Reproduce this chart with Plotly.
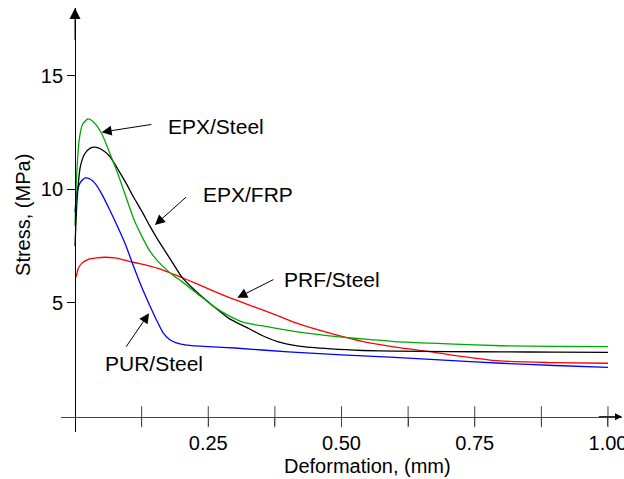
import plotly.graph_objects as go

# ---- data ----
green_x = [0, 0.003, 0.008, 0.014, 0.024, 0.035, 0.05, 0.065, 0.08, 0.095, 0.11, 0.125, 0.14,
           0.155, 0.17, 0.185, 0.2, 0.23, 0.26, 0.29, 0.32, 0.35, 0.4, 0.45, 0.5, 0.55, 0.6,
           0.7, 0.8, 0.9, 1.0]
green_y = [8.4, 10.6, 12.2, 12.85, 13.09, 12.95, 12.45, 11.6, 10.7, 9.7, 8.7, 7.95, 7.3,
           6.85, 6.5, 6.2, 5.95, 5.4, 4.85, 4.42, 4.12, 4.0, 3.8, 3.63, 3.5, 3.4, 3.3,
           3.2, 3.12, 3.09, 3.08]

black_x = [0, 0.004, 0.01, 0.018, 0.028, 0.038, 0.05, 0.065, 0.08, 0.095, 0.11, 0.125, 0.14,
           0.155, 0.17, 0.185, 0.2, 0.23, 0.26, 0.29, 0.32, 0.35, 0.38, 0.42, 0.48, 0.54,
           0.6, 0.7, 0.8, 0.9, 1.0]
black_y = [7.5, 9.6, 11.0, 11.55, 11.8, 11.85, 11.75, 11.45, 10.9, 10.3, 9.65, 9.05, 8.4,
           7.8, 7.25, 6.7, 6.15, 5.45, 4.85, 4.3, 3.95, 3.58, 3.3, 3.1, 2.98, 2.91,
           2.88, 2.86, 2.85, 2.84, 2.83]

blue_x = [0, 0.004, 0.01, 0.019, 0.028, 0.038, 0.05, 0.065, 0.08, 0.095, 0.11, 0.125, 0.14,
          0.155, 0.165, 0.178, 0.19, 0.21, 0.25, 0.3, 0.4, 0.5, 0.6, 0.7, 0.8, 0.9, 1.0]
blue_y = [9.0, 9.9, 10.3, 10.5, 10.45, 10.25, 9.8, 9.1, 8.35, 7.55, 6.6, 5.7, 4.9,
          4.15, 3.7, 3.38, 3.25, 3.15, 3.08, 3.02, 2.85, 2.72, 2.61, 2.48, 2.35, 2.25, 2.17]

red_x = [0.002, 0.006, 0.0125, 0.025, 0.04, 0.056, 0.075, 0.0875, 0.103, 0.119, 0.156, 0.2,
         0.228, 0.26, 0.291, 0.322, 0.353, 0.385, 0.416, 0.478, 0.541, 0.604, 0.666, 0.704,
         0.797, 0.891, 1.0]
red_y = [6.14, 6.5, 6.74, 6.92, 6.98, 7.01, 6.98, 6.92, 6.82, 6.74, 6.52, 6.12,
         5.85, 5.52, 5.22, 4.95, 4.69, 4.4, 4.11, 3.67, 3.3, 3.05, 2.86, 2.72,
         2.45, 2.38, 2.35]

x_ticks = [0.125, 0.25, 0.375, 0.5, 0.625, 0.75, 0.875, 1.0]
x_ticktext = ["", "0.25", "", "0.50", "", "0.75", "", "1.00"]
y_ticks = [5, 10, 15]
y_ticktext = ["5", "10", "15"]

labels = ["EPX/Steel", "EPX/FRP", "PRF/Steel", "PUR/Steel"]
label_pos = [(0.170, 12.74), (0.236, 9.75), (0.389, 6.04), (0.053, 2.35)]
arrow_tip = [(0.050, 12.51), (0.150, 8.43), (0.3045, 5.23), (0.139, 4.55)]
arrow_tail = [(0.146, 12.86), (0.211, 9.71), (0.375, 6.06), (0.094, 3.01)]

x_range = [-0.0263, 1.0263]
y_range = [-0.673, 17.97]

FONT = "Liberation Sans, Arial, sans-serif"

fig = go.Figure()
for xs, ys, col in [(red_x, red_y, "#ff0000"), (blue_x, blue_y, "#0000ff"),
                    (black_x, black_y, "#000000"), (green_x, green_y, "#00a800")]:
    fig.add_trace(go.Scatter(x=xs, y=ys, mode="lines",
                             line=dict(color=col, width=1.3, shape="spline", smoothing=0.6),
                             hoverinfo="skip", showlegend=False))

# crossing tick marks on the x axis
fig.add_trace(go.Scatter(x=x_ticks, y=[0] * len(x_ticks), mode="markers",
                         marker=dict(symbol="line-ns", size=15,
                                     line=dict(width=1, color="#444")),
                         hoverinfo="skip", showlegend=False, cliponaxis=False))

annotations = []
for t, (lx, ly) in zip(labels, label_pos):
    annotations.append(dict(x=lx, y=ly, xref="x", yref="y", text=t, showarrow=False,
                            xanchor="left", yanchor="middle",
                            font=dict(family=FONT, size=21, color="black")))
for (tx, ty), (ax, ay) in zip(arrow_tip, arrow_tail):
    annotations.append(dict(x=tx, y=ty, ax=ax, ay=ay, xref="x", yref="y",
                            axref="x", ayref="y", text="", showarrow=True,
                            arrowhead=2, arrowsize=2, arrowwidth=1, arrowcolor="black",
                            standoff=0, startstandoff=0))
# axis arrows
annotations.append(dict(x=x_range[1], y=0, ax=0.98, ay=0, xref="x", yref="y",
                        axref="x", ayref="y", text="", showarrow=True, arrowhead=2,
                        arrowsize=1.4, arrowwidth=1, arrowcolor="black", standoff=0))
annotations.append(dict(x=0, y=y_range[1], ax=0, ay=16.5, xref="x", yref="y",
                        axref="x", ayref="y", text="", showarrow=True, arrowhead=2,
                        arrowsize=2.2, arrowwidth=1, arrowcolor="black", standoff=0))
# axis titles
annotations.append(dict(x=-0.0677, y=0.512, xref="paper", yref="paper",
                        text="Stress, (MPa)", textangle=-90, showarrow=False,
                        xanchor="center", yanchor="middle",
                        font=dict(family=FONT, size=20, color="black")))
annotations.append(dict(x=0.5455, y=-0.080, xref="paper", yref="paper",
                        text="Deformation, (mm)", showarrow=False,
                        xanchor="center", yanchor="middle",
                        font=dict(family=FONT, size=20, color="black")))

fig.update_layout(
    width=624, height=479,
    margin=dict(l=61, r=2, t=8, b=47, pad=0, autoexpand=False),
    paper_bgcolor="white", plot_bgcolor="white",
    font=dict(family=FONT, size=20, color="black"),
    xaxis=dict(range=x_range, anchor="free", position=0.0361, showgrid=False,
               zeroline=False, showline=True, linecolor="#444", linewidth=1,
               automargin=False, ticklabeloverflow="allow",
               ticks="outside", ticklen=8, tickcolor="#444", tickwidth=1,
               tickvals=x_ticks, ticktext=x_ticktext,
               tickfont=dict(family=FONT, size=20, color="black")),
    yaxis=dict(range=y_range, anchor="free", position=0.025, showgrid=False,
               zeroline=False, showline=True, linecolor="black", linewidth=1,
               automargin=False, ticklabeloverflow="allow",
               ticks="outside", ticklen=8, tickcolor="black", tickwidth=1,
               tickvals=y_ticks, ticktext=y_ticktext,
               tickfont=dict(family=FONT, size=20, color="black")),
    annotations=annotations,
)

fig.write_html("out.html", config={"displayModeBar": False},
               post_script="document.body.style.margin='0';document.body.style.overflow='hidden';")
